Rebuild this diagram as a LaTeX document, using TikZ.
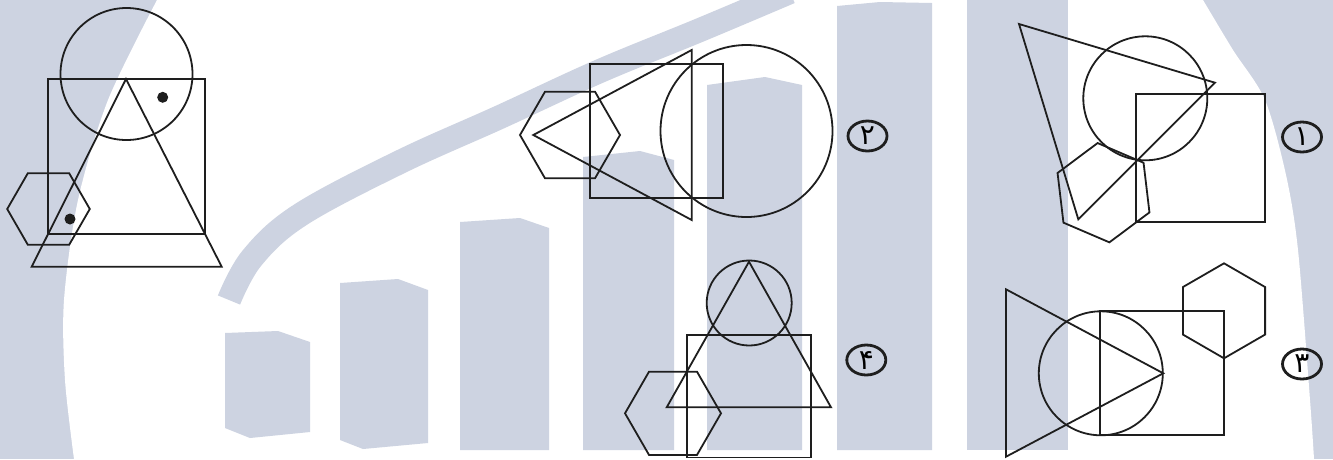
\documentclass[tikz,border=0pt]{standalone}
\usepackage{fontspec}
\newfontfamily\arabicfont[Script=Arabic]{DejaVu Sans}
\usetikzlibrary{shapes.geometric}
\definecolor{wm}{RGB}{205,211,225}
\definecolor{ink}{RGB}{30,30,30}
\begin{document}
\begin{tikzpicture}[x=1pt,y=-1pt,
  shp/.style={draw=ink,line width=1.8pt},
  lbl/.style={draw=ink,ellipse,line width=2.8pt,minimum width=39pt,minimum height=30pt,inner sep=0pt,font=\arabicfont\fontsize{28}{28}\selectfont},
  bar/.style={fill=wm}]
\useasboundingbox (0,0) rectangle (1333,459);
% watermark
\fill[wm] (0,0) rectangle (1333,459);
\fill[white] plot[smooth] coordinates {(157,0)(108,100)(78,200)(64,300)(65,380)(74,459)}
  -- plot[smooth] coordinates {(1314,459)(1310,400)(1298,250)(1286,175)(1265,100)(1233,50)(1203,0)} -- cycle;
\fill[bar] (225,333) -- (278,331) -- (310,342) -- (310,432) -- (250,438) -- (225,428) -- cycle;
\fill[bar] (340,283) -- (398,279) -- (428,290) -- (428,443) -- (363,449) -- (340,440) -- cycle;
\fill[bar] (460,222) -- (520,218) -- (549,228) -- (549,450) -- (460,450) -- cycle;
\fill[bar] (583,157) -- (640,151) -- (674,160) -- (674,450) -- (583,450) -- cycle;
\fill[bar] (707,85) -- (765,77) -- (802,85) -- (802,450) -- (707,450) -- cycle;
\fill[bar] (837,6) -- (880,2) -- (932,3) -- (932,450) -- (837,450) -- cycle;
\fill[bar] (967,0) rectangle (1068,450);
\draw[wm,line width=24pt] plot[smooth,tension=0.6] coordinates {(229,300)(252,258)(300,215)(400,162)(500,117)(600,71)(700,30)(790,-8)};
% main figure
\draw[shp] (126.5,74) circle[radius=66];
\draw[shp] (48.3,79) rectangle (205,234.3);
\draw[shp] (126,79) -- (221.7,266.7) -- (31.7,266.7) -- cycle;
\draw[shp] (27.85,173.2) -- (69.15,173.2) -- (89.8,209) -- (69.15,244.8) -- (27.85,244.8) -- (7.2,209) -- cycle;
\fill[ink] (162.7,97.3) circle[radius=5.5];
\fill[ink] (70,219) circle[radius=5.5];
% option 2
\draw[shp] (545,91.7) -- (595,91.7) -- (620,135) -- (595,178.3) -- (545,178.3) -- (520,135) -- cycle;
\draw[shp] (533.3,135) -- (691.7,50) -- (691.7,220) -- cycle;
\draw[shp] (590,64.3) rectangle (723.3,198.3);
\draw[shp] (746.5,131) circle[radius=86];
\node[lbl] (l2) at (867.5,136) {۲};
% option 1
\draw[shp] (1019,24) -- (1215,82.7) -- (1078.3,219.3) -- cycle;
\draw[shp] (1145.3,98.3) circle[radius=62];
\draw[shp] (1135.7,94.3) rectangle (1265,221.7);
\draw[shp] (1097.6,143.05) -- (1143.55,162.75) -- (1149.45,212.4) -- (1109.4,242.35) -- (1063.45,222.65) -- (1057.55,173.0) -- cycle;
\node[lbl] (l1) at (1302,137) {۱};
% option 3
\draw[shp] (1006,289.3) -- (1163.3,373.3) -- (1006,456.7) -- cycle;
\draw[shp] (1100.8,373.3) circle[radius=62];
\draw[shp] (1100,311) rectangle (1224,435);
\draw[shp] (1224,263.3) -- (1265.1,287.05) -- (1265.1,334.55) -- (1224,358.3) -- (1182.9,334.55) -- (1182.9,287.05) -- cycle;
\node[lbl] (l3) at (1302,364) {۳};
% option 4
\draw[shp] (749.2,303) circle[radius=42.5];
\draw[shp] (749,261.7) -- (831,407.3) -- (666.7,407.3) -- cycle;
\draw[shp] (687,335) rectangle (811,457.5);
\draw[shp] (649,371.7) -- (697,371.7) -- (721,413.3) -- (697,454.9) -- (649,454.9) -- (625,413.3) -- cycle;
\node[lbl] (l4) at (866.3,360) {۴};
\end{tikzpicture}
\end{document}
